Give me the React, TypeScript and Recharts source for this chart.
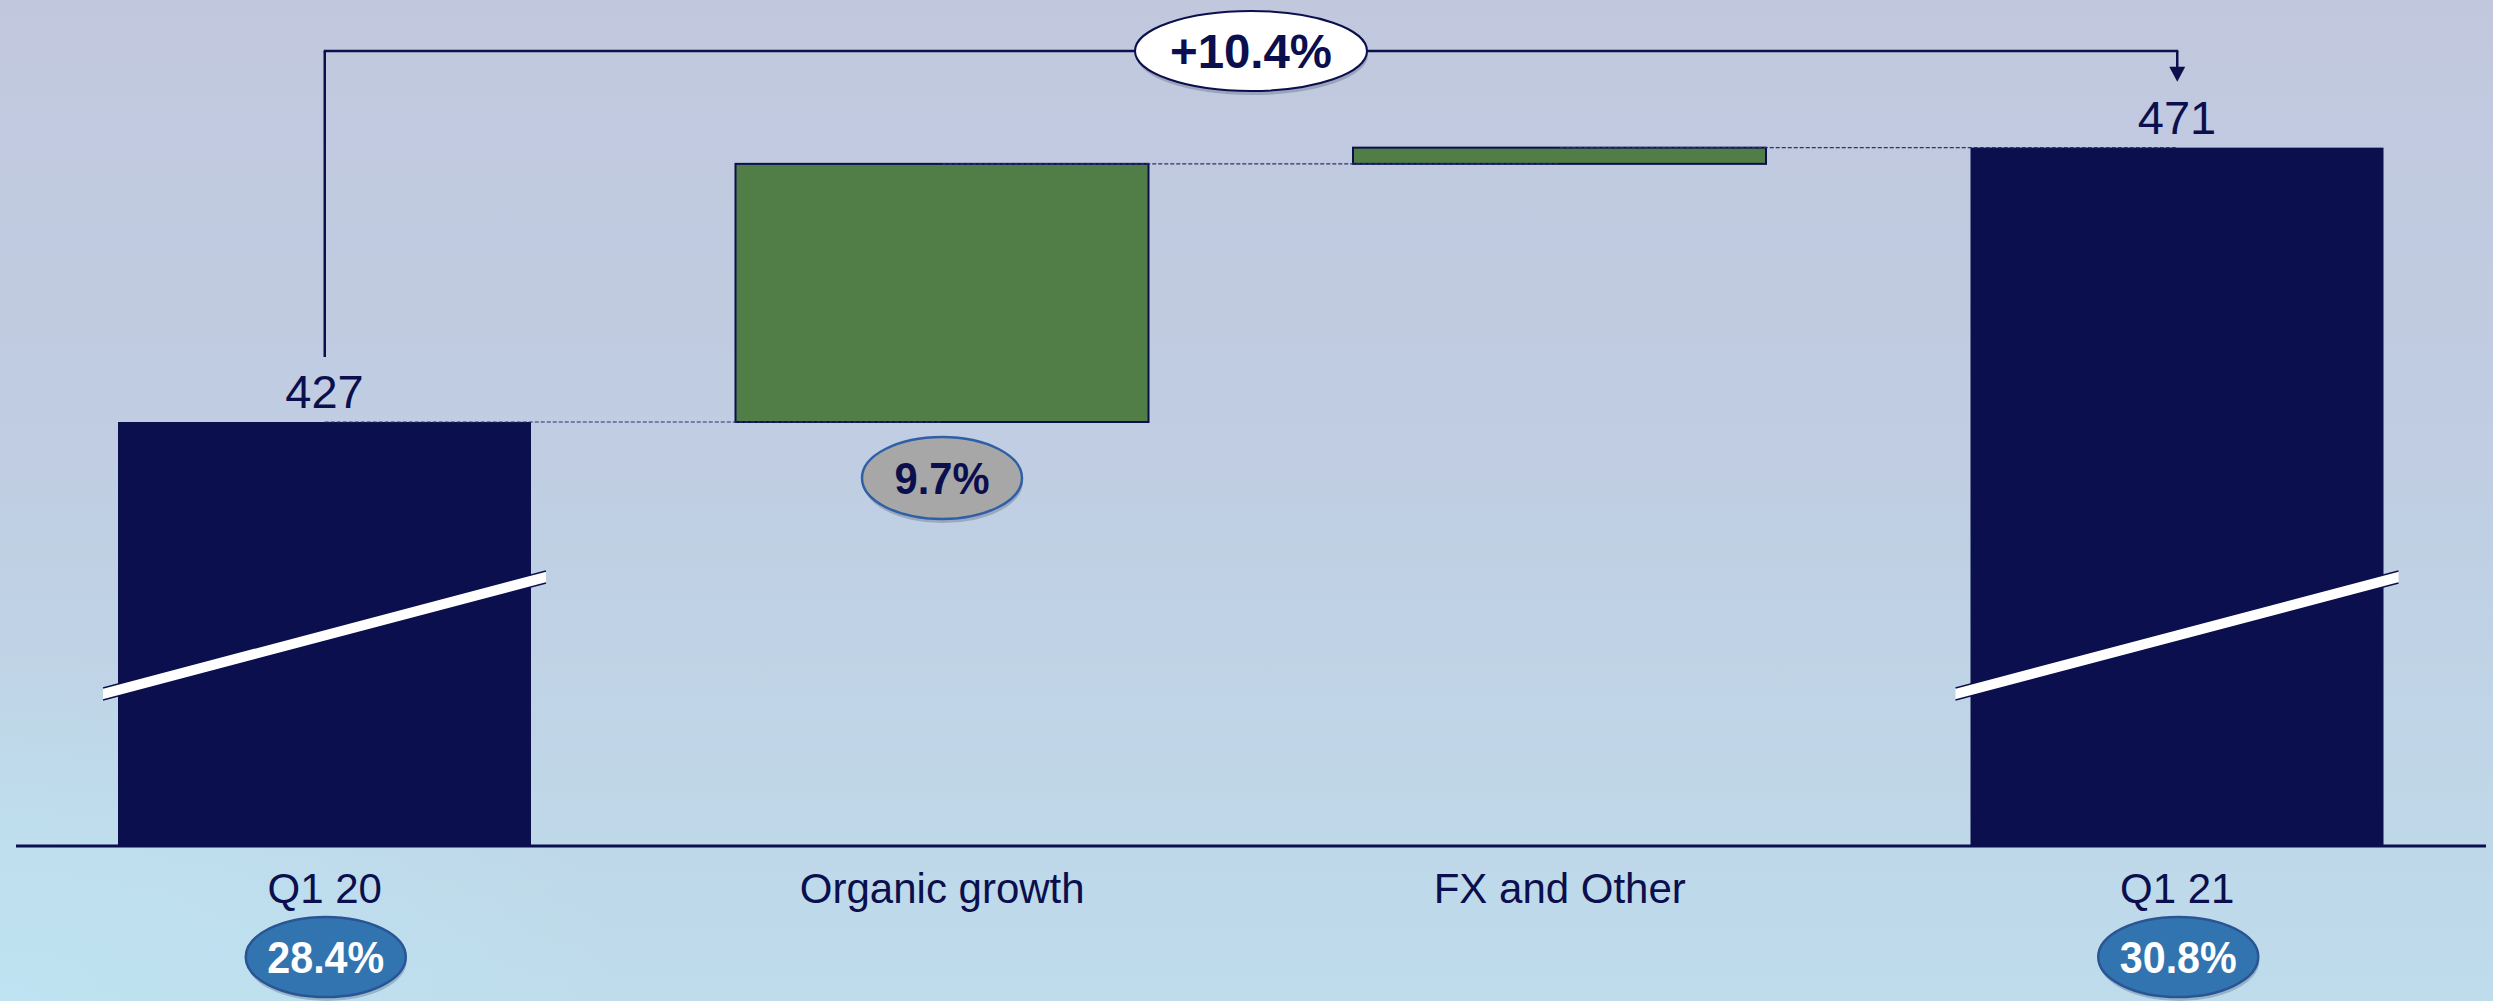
import { BarChart, Bar, XAxis, YAxis, ReferenceLine } from "recharts";

const CATEGORIES = ["Q1 20", "Organic growth", "FX and Other", "Q1 21"];
const TOTALS: (number | null)[] = [427, null, null, 471];
const CHANGES: (number | null)[] = [null, 41.4, 2.6, null];
const STEP_BADGES: (string | null)[] = [null, "9.7%", null, null];
const MARGIN_BADGES: (string | null)[] = ["28.4%", null, null, "30.8%"];
const GROWTH_LABEL = "+10.4%";

// the value axis is broken: bars start here instead of at zero
const AXIS_FLOOR = 359;
const AXIS_TOP = 486.5;

const NAVY = "#0b0f4d";
const GREEN = "#507e46";
const FONT = "'Liberation Sans', Arial, sans-serif";

type Row = {
  name: string;
  range: [number, number];
  total: number | null;
  kind: "total" | "step";
  stepBadge: string | null;
  end: number;
};

let running = 0;
const data: Row[] = CATEGORIES.map((name, i) => {
  const total = TOTALS[i];
  const change = CHANGES[i] ?? 0;
  let range: [number, number];
  if (total != null) {
    range = [AXIS_FLOOR, total];
    running = total;
  } else {
    range = [running, running + change];
    running += change;
  }
  return {
    name,
    range,
    total,
    kind: total != null ? "total" : "step",
    stepBadge: STEP_BADGES[i],
    end: running,
  };
});

const first = data[0];
const last = data[data.length - 1];

// ellipse badge with a small drop shadow
const Badge = ({ cx, cy, rx, ry, fill, stroke, strokeWidth = 2.5, text, color, fontSize, textWidth }: any) => (
  <g>
    <ellipse cx={cx + 1} cy={cy + 4} rx={rx} ry={ry} fill="rgba(20,30,70,0.22)" />
    <ellipse cx={cx} cy={cy} rx={rx} ry={ry} fill={fill} stroke={stroke} strokeWidth={strokeWidth} />
    <text
      x={cx}
      y={cy + fontSize * 0.36}
      textAnchor="middle"
      fontFamily={FONT}
      fontWeight="bold"
      fontSize={fontSize}
      fill={color}
      textLength={textWidth}
      lengthAdjust="spacingAndGlyphs"
    >
      {text}
    </text>
  </g>
);

const WaterfallShape = (props: any) => {
  const { x, y, width, height, payload } = props;
  const top = Math.min(y, y + height);
  const h = Math.abs(height);
  const bottom = top + h;
  const cx = x + width / 2;

  if (payload.kind === "total") {
    // white break band across the bar
    const bx1 = x - 15;
    const bx2 = x + width + 15;
    const by1 = bottom - 152;
    const by2 = bottom - 269;
    const t = 6;
    return (
      <g>
        <rect x={x} y={top} width={width} height={h} fill={NAVY} />
        <polygon
          points={`${bx1},${by1 - t} ${bx2},${by2 - t} ${bx2},${by2 + t} ${bx1},${by1 + t}`}
          fill="#ffffff"
        />
        <line x1={bx1} y1={by1 - t} x2={bx2} y2={by2 - t} stroke={NAVY} strokeWidth={1.5} />
        <line x1={bx1} y1={by1 + t} x2={bx2} y2={by2 + t} stroke={NAVY} strokeWidth={1.5} />
        <text x={cx} y={top - 14} textAnchor="middle" fontFamily={FONT} fontSize={47} fill={NAVY}>
          {payload.total}
        </text>
      </g>
    );
  }

  return (
    <g>
      <rect x={x} y={top} width={width} height={h} fill={GREEN} stroke={NAVY} strokeWidth={2} />
      {payload.stepBadge && (
        <Badge
          cx={cx}
          cy={bottom + 56}
          rx={80}
          ry={41}
          fill="#a7a7a7"
          stroke="#2f5fa5"
          text={payload.stepBadge}
          color={NAVY}
          fontSize={44}
          textWidth={95}
        />
      )}
    </g>
  );
};

const CategoryTick = (props: any) => {
  const { x, y, payload, index } = props;
  const badge = MARGIN_BADGES[index];
  return (
    <g>
      <text x={x} y={y + 57} textAnchor="middle" fontFamily={FONT} fontSize={42} fill={NAVY}>
        {payload.value}
      </text>
      {badge && (
        <Badge
          cx={x + 1}
          cy={y + 111}
          rx={80}
          ry={40}
          fill="#3274b0"
          stroke="#2a5595"
          text={badge}
          color="#ffffff"
          fontSize={44}
          textWidth={117}
        />
      )}
    </g>
  );
};

export default function App() {
  return (
    <div
      style={{
        position: "absolute",
        left: 0,
        top: 0,
        width: 2493,
        height: 1001,
        background:
          "radial-gradient(ellipse 900px 500px at 0% 100%, rgba(190,228,242,0.9), rgba(190,228,242,0) 70%), linear-gradient(to bottom, #c1c8de 0%, #c0cde2 45%, #bfd7e8 80%, #bedcec 100%)",
      }}
    >
      <BarChart
        width={2493}
        height={1001}
        data={data}
        margin={{ top: 51, right: 7, bottom: 0, left: 16 }}
      >
        <XAxis
          dataKey="name"
          axisLine={{ stroke: NAVY, strokeWidth: 3 }}
          tickLine={false}
          tickSize={0}
          tickMargin={0}
          height={155}
          interval={0}
          tick={<CategoryTick />}
        />
        <YAxis hide type="number" domain={[AXIS_FLOOR, AXIS_TOP]} allowDataOverflow />
        <Bar dataKey="range" barSize={413} shape={WaterfallShape} isAnimationActive={false} />

        {data.slice(0, -1).map((d, i) => (
          <ReferenceLine
            key={`conn-${d.name}`}
            ifOverflow="visible"
            segment={[
              { x: d.name, y: d.end },
              { x: data[i + 1].name, y: d.end },
            ]}
            stroke="#2a3170"
            strokeWidth={1.2}
            strokeDasharray="4 2"
          />
        ))}

        <ReferenceLine
          ifOverflow="visible"
          segment={[
            { x: first.name, y: first.end },
            { x: first.name, y: AXIS_TOP },
          ]}
          shape={(p: any) => (
            <line x1={p.x1} y1={p.y1 - 65} x2={p.x2} y2={p.y2} stroke={NAVY} strokeWidth={2.5} />
          )}
        />
        <ReferenceLine
          ifOverflow="visible"
          segment={[
            { x: first.name, y: AXIS_TOP },
            { x: last.name, y: AXIS_TOP },
          ]}
          shape={(p: any) => {
            const mx = (p.x1 + p.x2) / 2;
            return (
              <g>
                <line x1={p.x1 - 1} y1={p.y1} x2={p.x2 + 1} y2={p.y2} stroke={NAVY} strokeWidth={2.5} />
                <Badge
                  cx={mx}
                  cy={p.y1}
                  rx={116}
                  ry={40}
                  fill="#ffffff"
                  stroke={NAVY}
                  strokeWidth={2}
                  text={GROWTH_LABEL}
                  color={NAVY}
                  fontSize={48}
                  textWidth={162}
                />
              </g>
            );
          }}
        />
        <ReferenceLine
          ifOverflow="visible"
          segment={[
            { x: last.name, y: AXIS_TOP },
            { x: last.name, y: last.end },
          ]}
          shape={(p: any) => {
            const tip = p.y2 - 66;
            return (
              <g>
                <line x1={p.x1} y1={p.y1} x2={p.x2} y2={tip - 12} stroke={NAVY} strokeWidth={2.5} />
                <polygon points={`${p.x2 - 8},${tip - 15} ${p.x2 + 8},${tip - 15} ${p.x2},${tip}`} fill={NAVY} />
              </g>
            );
          }}
        />
      </BarChart>
    </div>
  );
}
